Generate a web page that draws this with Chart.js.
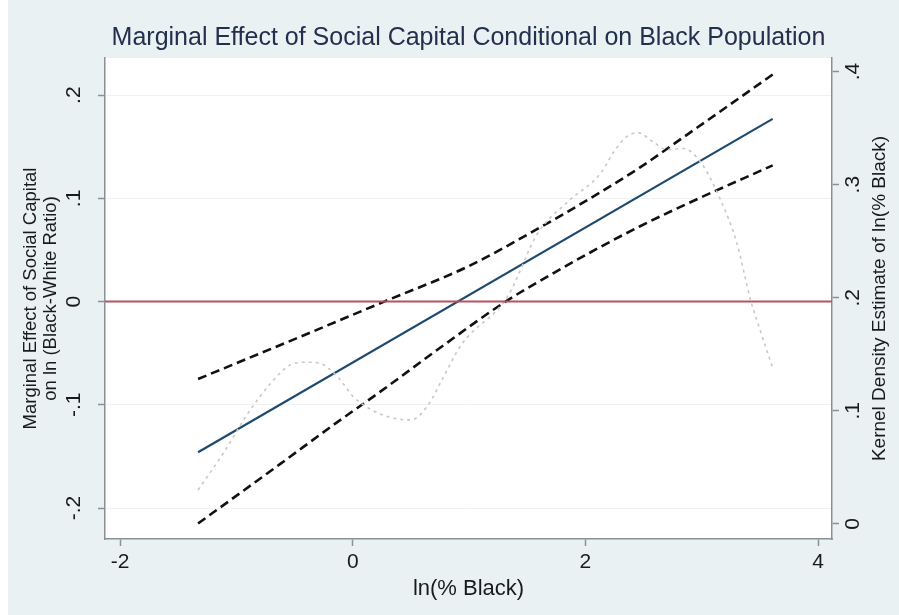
<!DOCTYPE html>
<html>
<head>
<meta charset="utf-8">
<script src="https://cdn.jsdelivr.net/npm/chart.js@4.4.0/dist/chart.umd.min.js"></script>
<style>
  html, body { margin: 0; padding: 0; background: #fff; }
  #wrap { width: 899px; height: 615px; }
</style>
</head>
<body>
<div id="wrap"><canvas id="chart" width="899" height="615"></canvas></div>
<script>
// Axis ticks and labels
const xTicks = [-2, 0, 2, 4];
const xLabels = ['-2', '0', '2', '4'];
const yTicks = [-0.2, -0.1, 0, 0.1, 0.2];
const yLabels = ['-.2', '-.1', '0', '.1', '.2'];
const densityTicks = [0, 0.1, 0.2, 0.3, 0.4];
const densityLabels = ['0', '.1', '.2', '.3', '.4'];

// Marginal effect (solid line)
const effectX = [-1.33, 3.61];
const effectY = [-0.146, 0.177];

// 95% bounds (dashed)
const upperX = [-1.33, -0.90, -0.45, 0.27, 0.99, 1.55, 2.13, 2.47, 2.84, 3.61];
const upperY = [-0.075, -0.055, -0.034, 0.000, 0.034, 0.068, 0.106, 0.130, 0.159, 0.220];
const lowerX = [-1.33, -0.62, -0.16, 0.24, 0.76, 1.30, 1.70, 2.13, 2.47, 2.84, 3.61];
const lowerY = [-0.215, -0.157, -0.119, -0.087, -0.044, -0.001, 0.026, 0.053, 0.073, 0.093, 0.132];

// Kernel density of ln(% Black) (right axis)
const densityX = [-1.33, -1.11, -0.90, -0.70, -0.53, -0.39, -0.28, -0.13, 0.01, 0.16, 0.33, 0.50,
  0.64, 0.78, 0.93, 1.33, 1.59, 1.85, 2.13, 2.25, 2.35, 2.45, 2.58, 2.70, 2.84, 2.99, 3.16, 3.30, 3.42, 3.50, 3.61];
const densityY = [0.030, 0.063, 0.098, 0.125, 0.141, 0.143, 0.142, 0.130, 0.112, 0.101, 0.094, 0.092,
  0.104, 0.130, 0.158, 0.201, 0.257, 0.285, 0.310, 0.330, 0.342, 0.346, 0.338, 0.331, 0.332, 0.320, 0.287, 0.249, 0.198, 0.172, 0.138];

// Reference line at zero
const zeroX = [-2.13, 4.12];
const zeroY = [0, 0];

// Axis ranges
const xMin = -2.13, xMax = 4.12;
const yMin = -0.230, yMax = 0.236;
const dMin = -0.0133, dMax = 0.412;

const titleText = 'Marginal Effect of Social Capital Conditional on Black Population';
const xTitle = 'ln(% Black)';
const yTitle = ['Marginal Effect of Social Capital', 'on ln (Black-White Ratio)'];
const dTitle = 'Kernel Density Estimate of ln(% Black)';

const FONT = '"Liberation Sans", Arial, sans-serif';
const BG = '#eaf1f3';
const AXIS = '#8a9096';

function pts(xs, ys) {
  return xs.map((x, i) => ({ x, y: ys[i] }));
}

// Background, plot region and all texts (Stata draws rotated labels)
const stataText = {
  id: 'stataText',
  beforeDraw(chart) {
    const { ctx, chartArea: a } = chart;
    ctx.save();
    ctx.fillStyle = '#ffffff';
    ctx.fillRect(0, 0, chart.width, chart.height);
    ctx.fillStyle = BG;
    ctx.fillRect(8, 0, chart.width - 8, chart.height);
    ctx.fillStyle = '#ffffff';
    ctx.fillRect(a.left, a.top, a.right - a.left, a.bottom - a.top);
    ctx.restore();
  },
  afterDraw(chart) {
    const { ctx, chartArea: a, scales } = chart;
    ctx.save();
    ctx.textAlign = 'center';
    ctx.textBaseline = 'middle';

    // title
    ctx.fillStyle = '#22304d';
    ctx.font = '25px ' + FONT;
    ctx.fillText(titleText, (a.left + a.right) / 2, 38);

    ctx.fillStyle = '#1a1a1a';
    // x tick labels
    ctx.font = '21px ' + FONT;
    xTicks.forEach((v, i) => {
      ctx.fillText(xLabels[i], scales.x.getPixelForValue(v), 562);
    });
    // x title
    ctx.font = '22px ' + FONT;
    ctx.fillText(xTitle, (a.left + a.right) / 2, 589);

    // left tick labels (rotated)
    ctx.font = '21px ' + FONT;
    yTicks.forEach((v, i) => {
      ctx.save();
      ctx.translate(74, scales.y.getPixelForValue(v));
      ctx.rotate(-Math.PI / 2);
      ctx.fillText(yLabels[i], 0, 0);
      ctx.restore();
    });
    // right tick labels (rotated)
    densityTicks.forEach((v, i) => {
      ctx.save();
      ctx.translate(853, scales.y2.getPixelForValue(v));
      ctx.rotate(-Math.PI / 2);
      ctx.fillText(densityLabels[i], 0, 0);
      ctx.restore();
    });

    // left title, two lines
    ctx.font = '18.5px ' + FONT;
    const midY = (a.top + a.bottom) / 2;
    ctx.save();
    ctx.translate(31, midY);
    ctx.rotate(-Math.PI / 2);
    ctx.fillText(yTitle[0], 0, 0);
    ctx.fillText(yTitle[1], 0, 20);
    ctx.restore();

    // right title
    ctx.font = '19px ' + FONT;
    ctx.save();
    ctx.translate(880, midY);
    ctx.rotate(-Math.PI / 2);
    ctx.fillText(dTitle, 0, 0);
    ctx.restore();

    ctx.restore();
  }
};

const ctx = document.getElementById('chart');

new Chart(ctx, {
  type: 'scatter',
  data: {
    datasets: [
      {
        label: 'zero',
        data: pts(zeroX, zeroY),
        showLine: true,
        borderColor: '#b9505f',
        borderWidth: 2,
        pointRadius: 0,
        yAxisID: 'y'
      },
      {
        label: 'density',
        data: pts(densityX, densityY),
        showLine: true,
        borderColor: '#c8c8c8',
        borderWidth: 1.6,
        borderDash: [3, 4],
        cubicInterpolationMode: 'monotone',
        pointRadius: 0,
        yAxisID: 'y2'
      },
      {
        label: 'upper',
        data: pts(upperX, upperY),
        showLine: true,
        borderColor: '#111',
        borderWidth: 2.6,
        borderDash: [9, 5],
        cubicInterpolationMode: 'monotone',
        pointRadius: 0,
        yAxisID: 'y'
      },
      {
        label: 'lower',
        data: pts(lowerX, lowerY),
        showLine: true,
        borderColor: '#111',
        borderWidth: 2.6,
        borderDash: [9, 5],
        cubicInterpolationMode: 'monotone',
        pointRadius: 0,
        yAxisID: 'y'
      },
      {
        label: 'effect',
        data: pts(effectX, effectY),
        showLine: true,
        borderColor: '#1f4a6e',
        borderWidth: 2.2,
        pointRadius: 0,
        yAxisID: 'y'
      }
    ]
  },
  options: {
    responsive: false,
    devicePixelRatio: 1,
    animation: false,
    layout: { padding: { top: 58, left: 0, right: 0, bottom: 0 } },
    plugins: {
      legend: { display: false },
      tooltip: { enabled: false },
      title: { display: false }
    },
    scales: {
      x: {
        type: 'linear',
        min: xMin,
        max: xMax,
        afterBuildTicks: (s) => { s.ticks = xTicks.map(v => ({ value: v })); },
        afterFit: (s) => { s.height = 76; },
        ticks: { display: false },
        grid: { drawOnChartArea: false, drawTicks: true, tickLength: 7, tickColor: AXIS, tickWidth: 1.5 },
        border: { display: true, color: AXIS, width: 1.5 }
      },
      y: {
        type: 'linear',
        position: 'left',
        min: yMin,
        max: yMax,
        afterBuildTicks: (s) => { s.ticks = yTicks.map(v => ({ value: v })); },
        afterFit: (s) => { s.width = 105; },
        ticks: { display: false },
        grid: { color: '#edf2f3', lineWidth: 1, drawTicks: true, tickLength: 7, tickColor: AXIS, tickWidth: 1.5 },
        border: { display: true, color: AXIS, width: 1.5 }
      },
      y2: {
        type: 'linear',
        position: 'right',
        min: dMin,
        max: dMax,
        afterBuildTicks: (s) => { s.ticks = densityTicks.map(v => ({ value: v })); },
        afterFit: (s) => { s.width = 67; },
        ticks: { display: false },
        grid: { drawOnChartArea: false, drawTicks: true, tickLength: 7, tickColor: AXIS, tickWidth: 1.5 },
        border: { display: true, color: AXIS, width: 1.5 }
      }
    }
  },
  plugins: [stataText]
});
</script>
</body>
</html>
